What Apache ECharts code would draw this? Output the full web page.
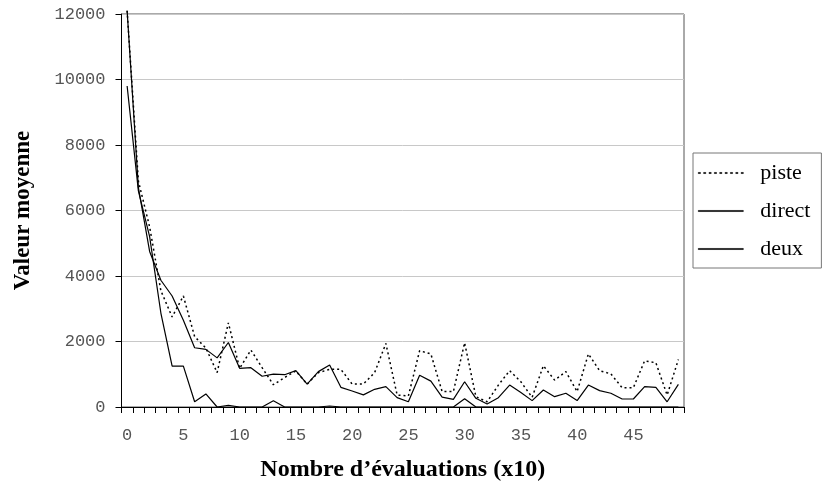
<!DOCTYPE html>
<html>
<head>
<meta charset="utf-8">
<script src="https://cdn.jsdelivr.net/npm/echarts@6/dist/echarts.min.js"></script>
<style>
html,body{margin:0;padding:0;background:#fff;}
#main{width:825px;height:492px;}
</style>
</head>
<body>
<div id="main"></div>
<script>
var categories = [];
for (var k = 0; k < 50; k++) categories.push(String(k));

var piste = [12100, 6900, 5500, 3550, 2750, 3390, 2150, 1800, 1050, 2570,
             1180, 1740, 1200, 680, 900, 1100, 700, 1050, 1150, 1150,
             700, 700, 1050, 1940, 365, 335, 1720, 1620, 470, 470,
             1960, 315, 160, 670, 1110, 770, 295, 1260, 820, 1080,
             470, 1620, 1110, 1010, 590, 590, 1410, 1350, 365, 1450];

var direct = [12100, 6700, 4750, 3870, 3390, 2650, 1810, 1760, 1500, 1970,
              1180, 1200, 940, 1006, 986, 1110, 700, 1080, 1280, 600,
              490, 370, 540, 620, 285, 160, 970, 790, 300, 235,
              770, 265, 90, 285, 670, 440, 195, 520, 315, 420,
              195, 670, 500, 420, 245, 245, 620, 600, 160, 690];

var deux = [9800, 6600, 5200, 2870, 1250, 1250, 160, 400, 0, 50,
            0, 0, 0, 190, 0, 0, 0, 0, 30, 0,
            0, 0, 0, 0, 0, 0, 0, 0, 0, 0,
            250, 0, 0, 0, 0, 0, 0, 0, 0, 0,
            0, 0, 0, 0, 0, 0, 0, 0, 0, 0];

var yTicks = [0, 2000, 4000, 6000, 8000, 10000, 12000];

// legend icons: solid rule and dotted rule
var dotPath = 'path://';
for (var d = 0; d < 9; d++) dotPath += 'M' + (d * 5) + ',0h2v1h-2z';
var solidPath = 'path://M0,0h42v1h-42z';
var iconStyle = {color: '#000', borderColor: '#000', borderWidth: 0.6};

var chart = echarts.init(document.getElementById('main'), null, {renderer: 'canvas'});
var tickFont = {fontFamily: 'Liberation Mono', fontSize: 17, color: '#555'};

chart.setOption({
  animation: false,
  backgroundColor: '#fff',
  grid: {left: 121.5, right: 141, top: 14, bottom: 85, show: true, borderColor: '#555', borderWidth: 1},
  legend: {
    orient: 'vertical',
    left: 693,
    top: 153,
    itemWidth: 45,
    itemHeight: 2,
    itemGap: 16,
    padding: [9, 11, 8, 5],
    borderColor: '#777',
    borderWidth: 1,
    backgroundColor: '#fff',
    textStyle: {fontFamily: 'Liberation Serif', fontSize: 22, lineHeight: 22, color: '#000', padding: [0, 0, 0, 12]},
    data: [
      {name: 'piste', icon: dotPath, itemStyle: iconStyle},
      {name: 'direct', icon: solidPath, itemStyle: iconStyle},
      {name: 'deux', icon: solidPath, itemStyle: iconStyle}
    ]
  },
  xAxis: {
    type: 'category',
    data: categories,
    boundaryGap: true,
    name: 'Nombre d\u2019\u00e9valuations (x10)',
    nameLocation: 'middle',
    nameGap: 51,
    nameTextStyle: {fontFamily: 'Liberation Serif', fontWeight: 'bold', fontSize: 24, color: '#000'},
    axisLine: {lineStyle: {color: '#000', width: 1}},
    axisTick: {show: true, interval: 0, length: 6, lineStyle: {color: '#000'}},
    axisLabel: Object.assign({interval: 4, margin: 20}, tickFont),
    splitLine: {show: false}
  },
  yAxis: {
    type: 'value',
    min: yTicks[0],
    max: yTicks[yTicks.length - 1],
    interval: 2000,
    name: 'Valeur moyenne',
    nameLocation: 'middle',
    nameGap: 87,
    nameTextStyle: {fontFamily: 'Liberation Serif', fontWeight: 'bold', fontSize: 23, color: '#000'},
    axisLine: {show: true, lineStyle: {color: '#000', width: 1}},
    axisTick: {show: true, length: 6, lineStyle: {color: '#000'}},
    axisLabel: Object.assign({margin: 16, formatter: function (v) { return String(v); }}, tickFont),
    splitLine: {show: true, lineStyle: {color: '#c8c8c8', width: 1}}
  },
  series: [
    {name: 'piste', type: 'line', data: piste, symbol: 'none', clip: false,
     lineStyle: {color: '#000', width: 1.5, type: [2, 3]}, itemStyle: {color: '#000'}},
    {name: 'direct', type: 'line', data: direct, symbol: 'none', clip: false,
     lineStyle: {color: '#000', width: 1.2, type: 'solid'}, itemStyle: {color: '#000'}},
    {name: 'deux', type: 'line', data: deux, symbol: 'none', clip: false,
     lineStyle: {color: '#000', width: 1.2, type: 'solid'}, itemStyle: {color: '#000'}}
  ]
});
</script>
</body>
</html>
